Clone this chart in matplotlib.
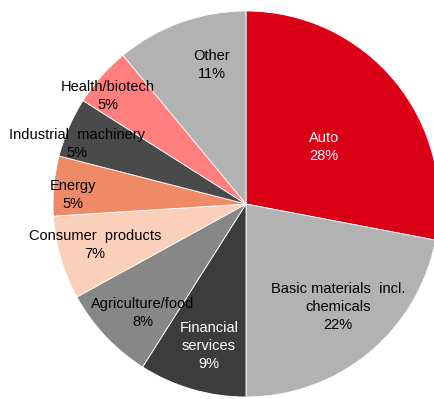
import matplotlib
matplotlib.use("Agg")
import matplotlib.pyplot as plt
import numpy as np

plt.rcParams['font.family'] = ['Liberation Sans', 'DejaVu Sans']

# Sector shares (%), clockwise from 12 o'clock
labels = ["Auto", "Basic materials  incl.\nchemicals", "Financial\nservices",
          "Agriculture/food", "Consumer  products", "Energy",
          "Industrial  machinery", "Health/biotech", "Other"]
shares = [28, 22, 9, 8, 7, 5, 5, 5, 11]
colors = ["#DA0016", "#B2B2B2", "#3C3C3C", "#878787", "#FBD0BB",
          "#EF8A66", "#4A4A4A", "#FF7F7F", "#B2B2B2"]
text_colors = ["white", "black", "white", "black", "black",
               "black", "black", "black", "black"]
# label placement: radial distance (fraction of radius) and angular nudge (deg)
label_r = [0.50, 0.715, 0.76, 0.78, 0.81, 0.90, 0.93, 0.91, 0.74]
label_nudge = [-3.5, 2.2, 1.6, 3.4, -0.9, 2.4, 4.0, 3.4, -5.8]

W, H = 434, 399
R_PX = 193.0
CX, CY = 246.0, 204.0

fig = plt.figure(figsize=(W / 100, H / 100), dpi=100)
ax = fig.add_axes([0, 0, 1, 1])

wedges, _ = ax.pie(shares, colors=colors, startangle=90, counterclock=False,
                   radius=1.0, center=(0, 0),
                   wedgeprops=dict(edgecolor='white', linewidth=0.6))

ax.set_xlim(-CX / R_PX, (W - CX) / R_PX)
ax.set_ylim(-(H - CY) / R_PX, CY / R_PX)
ax.set_aspect('auto')
ax.axis('off')

total = float(sum(shares))
cum = 0.0
for lab, val, tc, rr, dn in zip(labels, shares, text_colors, label_r, label_nudge):
    mid = 90 - 360 * (cum + val / 2) / total + dn
    cum += val
    x = rr * np.cos(np.radians(mid))
    y = rr * np.sin(np.radians(mid))
    ax.text(x, y, f"{lab}\n{val}%", ha='center', va='center', color=tc,
            fontsize=10.5, linespacing=1.35)

fig.savefig("out.png", dpi=100)
